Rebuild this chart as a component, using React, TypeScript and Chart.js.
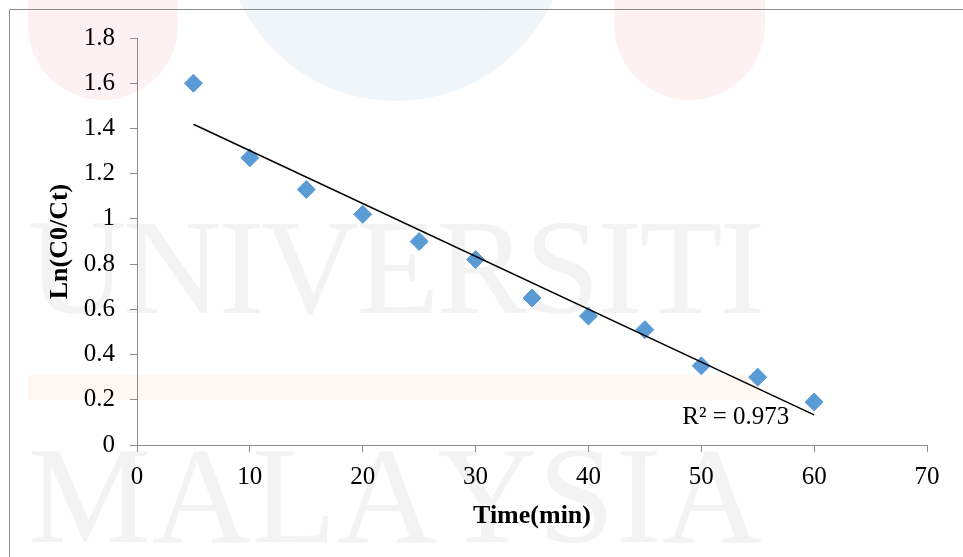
import React, { useEffect, useRef } from "react";
import { Chart, registerables } from "chart.js";

Chart.register(...registerables);

const timeMin = [5, 10, 15, 20, 25, 30, 35, 40, 45, 50, 55, 60];
const lnC0Ct = [1.6, 1.27, 1.13, 1.02, 0.9, 0.82, 0.65, 0.57, 0.51, 0.35, 0.3, 0.19];
const xTicks = [0, 10, 20, 30, 40, 50, 60, 70];
const yTicks = [0, 0.2, 0.4, 0.6, 0.8, 1, 1.2, 1.4, 1.6, 1.8];
const r2Label = "R² = 0.973";
const xTitle = "Time(min)";
const yTitle = "Ln(C0/Ct)";

const SERIF = '"Liberation Serif", "Times New Roman", serif';

function linearFit(xs: number[], ys: number[]) {
  const n = xs.length;
  const mx = xs.reduce((a, b) => a + b, 0) / n;
  const my = ys.reduce((a, b) => a + b, 0) / n;
  let sxy = 0;
  let sxx = 0;
  for (let i = 0; i < n; i++) {
    sxy += (xs[i] - mx) * (ys[i] - my);
    sxx += (xs[i] - mx) * (xs[i] - mx);
  }
  const slope = sxy / sxx;
  return { slope, intercept: my - slope * mx };
}

function drawSpread(ctx: CanvasRenderingContext2D, text: string, x0: number, x1: number, y: number) {
  const chars = text.split("");
  const widths = chars.map((c) => ctx.measureText(c).width);
  const total = widths.reduce((a, b) => a + b, 0);
  const gap = (x1 - x0 - total) / (chars.length - 1);
  let x = x0;
  chars.forEach((c, i) => {
    ctx.fillText(c, x, y);
    x += widths[i] + gap;
  });
}

const backgroundPlugin = {
  id: "bgWatermark",
  beforeDraw(chart: any) {
    const ctx = chart.ctx as CanvasRenderingContext2D;
    ctx.save();
    ctx.fillStyle = "#ffffff";
    ctx.fillRect(0, 0, chart.width, chart.height);
    ctx.fillStyle = "#fdf1f1";
    const blob = (l: number, r: number, bottom: number) => {
      const rad = (r - l) / 2;
      ctx.beginPath();
      ctx.moveTo(l, 0);
      ctx.lineTo(l, bottom - rad);
      ctx.arc(l + rad, bottom - rad, rad, Math.PI, 0, true);
      ctx.lineTo(r, 0);
      ctx.closePath();
      ctx.fill();
    };
    blob(28, 178, 100);
    blob(614, 765, 100);
    ctx.fillStyle = "#f0f5fa";
    ctx.beginPath();
    ctx.arc(396, -71, 172, 0, Math.PI * 2);
    ctx.fill();
    ctx.fillStyle = "#fff7f0";
    ctx.fillRect(28, 375, 732, 25);
    ctx.fillStyle = "#f3f3f3";
    ctx.textBaseline = "alphabetic";
    ctx.textAlign = "left";
    ctx.font = `136px ${SERIF}`;
    drawSpread(ctx, "UNIVERSITI", 28, 765, 313);
    ctx.font = `138px ${SERIF}`;
    drawSpread(ctx, "MALAYSIA", 28, 762, 542);
    ctx.strokeStyle = "#8c8c8c";
    ctx.lineWidth = 1;
    ctx.beginPath();
    ctx.moveTo(9.5, chart.height);
    ctx.lineTo(9.5, 9.5);
    ctx.lineTo(chart.width, 9.5);
    ctx.stroke();
    ctx.restore();
  },
};

const r2Plugin = {
  id: "r2Label",
  afterDatasetsDraw(chart: any) {
    const ctx = chart.ctx as CanvasRenderingContext2D;
    const xs = chart.scales.x;
    const ys = chart.scales.y;
    ctx.save();
    ctx.font = `25px ${SERIF}`;
    ctx.fillStyle = "#000000";
    ctx.textAlign = "right";
    ctx.textBaseline = "middle";
    ctx.fillText(r2Label, xs.getPixelForValue(57.8), ys.getPixelForValue(0.12));
    ctx.restore();
  },
};

export default function App() {
  const canvasRef = useRef<HTMLCanvasElement | null>(null);

  useEffect(() => {
    const canvas = canvasRef.current;
    if (!canvas) return;
    const fit = linearFit(timeMin, lnC0Ct);
    const x0 = timeMin[0];
    const x1 = timeMin[timeMin.length - 1];
    const chart = new Chart(canvas, {
      type: "scatter",
      data: {
        datasets: [
          {
            label: "Linear",
            data: [
              { x: x0, y: fit.intercept + fit.slope * x0 },
              { x: x1, y: fit.intercept + fit.slope * x1 },
            ],
            showLine: true,
            borderColor: "#000000",
            borderWidth: 1.5,
            pointRadius: 0,
            pointHoverRadius: 0,
          },
          {
            label: "Ln(C0/Ct)",
            data: timeMin.map((t, i) => ({ x: t, y: lnC0Ct[i] })),
            pointStyle: "rectRot",
            pointRadius: 9,
            pointHoverRadius: 9,
            backgroundColor: "#5B9BD5",
            borderColor: "#5B9BD5",
            borderWidth: 1,
          },
        ],
      },
      options: {
        responsive: false,
        animation: false,
        devicePixelRatio: 1,
        layout: { padding: { left: 0, right: 36, top: 38, bottom: 0 } },
        plugins: { legend: { display: false }, tooltip: { enabled: false } },
        scales: {
          x: {
            type: "linear",
            min: 0,
            max: 70,
            afterFit(scale: any) {
              scale.height = 112;
            },
            afterBuildTicks(scale: any) {
              scale.ticks = xTicks.map((v) => ({ value: v }));
            },
            border: { color: "#8c8c8c", width: 1 },
            grid: { drawOnChartArea: false, drawTicks: true, tickLength: 7, color: "#8c8c8c" },
            ticks: {
              padding: 10,
              color: "#000000",
              font: { family: SERIF, size: 25 },
              maxRotation: 0,
              autoSkip: false,
              callback: (v: any) => String(v),
            },
            title: {
              display: true,
              text: xTitle,
              color: "#000000",
              font: { family: SERIF, size: 26, weight: "bold" },
              padding: { top: 0, bottom: 25 },
            },
          },
          y: {
            type: "linear",
            min: 0,
            max: 1.8,
            afterFit(scale: any) {
              scale.width = 137;
            },
            afterBuildTicks(scale: any) {
              scale.ticks = yTicks.map((v) => ({ value: v }));
            },
            border: { color: "#8c8c8c", width: 1 },
            grid: { drawOnChartArea: false, drawTicks: true, tickLength: 7, color: "#8c8c8c" },
            ticks: {
              padding: 15,
              color: "#000000",
              font: { family: SERIF, size: 25 },
              autoSkip: false,
              callback: (v: any) => String(Math.round(Number(v) * 10) / 10),
            },
            title: {
              display: true,
              text: yTitle,
              color: "#000000",
              font: { family: SERIF, size: 26, weight: "bold" },
              padding: { top: 45, bottom: 0 },
            },
          },
        },
      },
      plugins: [backgroundPlugin, r2Plugin],
    } as any);
    return () => chart.destroy();
  }, []);

  return (
    <div style={{ position: "absolute", left: 0, top: 0, width: 963, height: 557, background: "#ffffff" }}>
      <canvas ref={canvasRef} width={963} height={557} style={{ display: "block", width: 963, height: 557 }} />
    </div>
  );
}
